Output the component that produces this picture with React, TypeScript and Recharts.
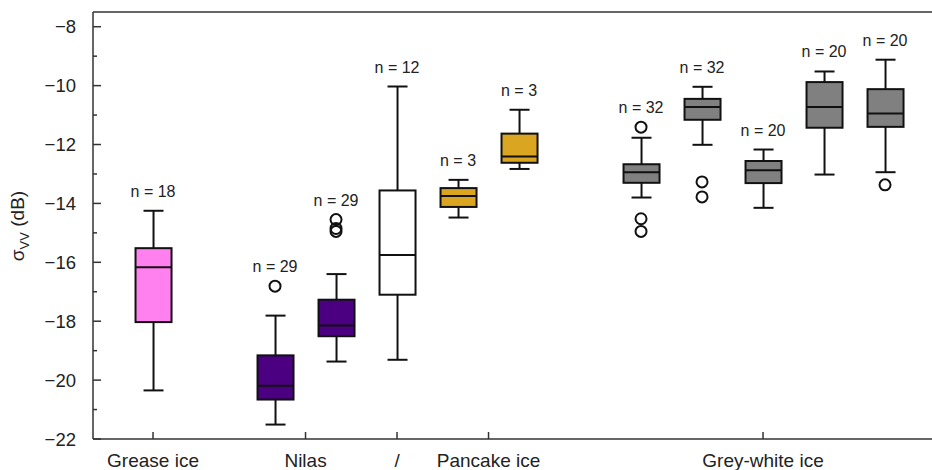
import { ComposedChart, Bar, Scatter, XAxis, YAxis, ReferenceLine } from "recharts";

const FONT = "'Liberation Sans', Arial, sans-serif";
const INK = "#111";
const AXIS = "#333";

// box positions along the x axis (one unit = one box slot)
const SLOTS = [0, 2, 3, 4, 5, 6, 8, 9, 10, 11, 12];
const LOW = [-20.35, -21.51, -19.37, -19.31, -14.48, -12.83, -13.8, -12.01, -14.15, -13.02, -12.94];
const Q1 = [-18.03, -20.66, -18.51, -17.1, -14.12, -12.62, -13.3, -11.16, -13.31, -11.43, -11.4];
const MEDIAN = [-16.17, -20.19, -18.15, -15.75, -13.75, -12.41, -12.94, -10.73, -12.87, -10.73, -10.95];
const Q3 = [-15.52, -19.16, -17.27, -13.56, -13.48, -11.63, -12.67, -10.45, -12.56, -9.88, -10.12];
const HIGH = [-14.25, -17.81, -16.4, -10.03, -13.2, -10.82, -11.77, -10.04, -12.17, -9.52, -9.12];
const COUNTS = [18, 29, 29, 12, 3, 3, 32, 32, 20, 20, 20];
const FILLS = ["#ff80ee", "#4b0082", "#4b0082", "#ffffff", "#daa520", "#daa520", "#808080", "#808080", "#808080", "#808080", "#808080"];

const OUTLIER_SLOTS = [2, 3, 3, 3, 8, 8, 8, 9, 9, 12];
const OUTLIER_VALUES = [-16.81, -14.55, -14.85, -14.95, -11.41, -14.52, -14.95, -13.27, -13.78, -13.37];

const X_TICKS = [0, 2.5, 4, 5.5, 10];
const X_LABELS = ["Grease ice", "Nilas", "/", "Pancake ice", "Grey-white ice"];
const Y_TICKS = [-22, -21, -20, -19, -18, -17, -16, -15, -14, -13, -12, -11, -10, -9, -8];

const boxes = SLOTS.map((x, i) => ({
  x,
  range: [LOW[i], HIGH[i]],
  q1: Q1[i],
  med: MEDIAN[i],
  q3: Q3[i],
  fill: FILLS[i],
}));

const outliers = OUTLIER_SLOTS.map((x, i) => ({ x, y: OUTLIER_VALUES[i] }));

const counts = SLOTS.map((x, i) => {
  const outs = OUTLIER_VALUES.filter((_, j) => OUTLIER_SLOTS[j] === x);
  return { x, y: Math.max(HIGH[i], ...outs), n: COUNTS[i] };
});

function BoxShape(props: any) {
  const { x, y, width, height, payload } = props;
  const [lo, hi] = payload.range;
  const k = height / (hi - lo);
  const py = (v: number) => y + (hi - v) * k;
  const cx = x + width / 2;
  const cap = 10;
  return (
    <g stroke={INK} strokeWidth={2}>
      <line x1={cx} x2={cx} y1={py(hi)} y2={py(payload.q3)} />
      <line x1={cx} x2={cx} y1={py(payload.q1)} y2={py(lo)} />
      <line x1={cx - cap} x2={cx + cap} y1={py(hi)} y2={py(hi)} />
      <line x1={cx - cap} x2={cx + cap} y1={py(lo)} y2={py(lo)} />
      <rect x={x} y={py(payload.q3)} width={width} height={py(payload.q1) - py(payload.q3)} fill={payload.fill} />
      <line x1={x} x2={x + width} y1={py(payload.med)} y2={py(payload.med)} />
    </g>
  );
}

function YTick(props: any) {
  const { x, y, payload } = props;
  const major = payload.value % 2 === 0;
  return (
    <g>
      <line x1={x} x2={x + (major ? 8 : 4)} y1={y} y2={y} stroke={AXIS} strokeWidth={1.5} />
      {major && (
        <text x={x - 17} y={y + 6.5} textAnchor="end" fontSize={18.5} fontFamily={FONT} fill="#222">
          {"\u2212" + Math.abs(payload.value)}
        </text>
      )}
    </g>
  );
}

function XTick(props: any) {
  const { x, y, payload } = props;
  const label = X_LABELS[X_TICKS.indexOf(payload.value)];
  return (
    <g>
      <line x1={x} x2={x} y1={y} y2={y - 7} stroke={AXIS} strokeWidth={1.5} />
      <text x={x} y={y + 28} textAnchor="middle" fontSize={19} fontFamily={FONT} fill="#222">
        {label}
      </text>
    </g>
  );
}

function YLabel() {
  return (
    <text transform="translate(24, 226) rotate(-90)" textAnchor="middle" fontSize={19} fontFamily={FONT} fill="#222">
      <tspan>σ</tspan>
      <tspan fontSize={13} dy={5}>VV</tspan>
      <tspan dy={-5}> (dB)</tspan>
    </text>
  );
}

export default function App() {
  return (
    <div style={{ width: 932, height: 470, background: "#fff" }}>
      <style>{"body{margin:0;overflow:hidden}"}</style>
      <ComposedChart width={932} height={470} data={boxes} margin={{ top: 12, right: 0, bottom: 0, left: 0 }}>
        <XAxis
          dataKey="x"
          type="number"
          domain={[-0.984, 12.77]}
          allowDataOverflow
          ticks={X_TICKS}
          interval={0}
          height={31}
          tickSize={0}
          tickMargin={0}
          tickLine={false}
          tick={<XTick />}
          axisLine={{ stroke: AXIS, strokeWidth: 1.5 }}
        />
        <YAxis
          type="number"
          domain={[-22, -7.5]}
          allowDataOverflow
          ticks={Y_TICKS}
          interval={0}
          width={93}
          tickSize={0}
          tickMargin={0}
          tickLine={false}
          tick={<YTick />}
          axisLine={{ stroke: AXIS, strokeWidth: 1.5 }}
          label={<YLabel />}
        />
        <ReferenceLine y={-7.5} stroke={AXIS} strokeWidth={1.5} ifOverflow="visible" />
        <Bar dataKey="range" barSize={36} shape={<BoxShape />} isAnimationActive={false} />
        <Scatter
          data={outliers}
          dataKey="y"
          isAnimationActive={false}
          shape={(p: any) => <circle cx={p.cx} cy={p.cy} r={5.5} fill="none" stroke={INK} strokeWidth={2} />}
        />
        <Scatter
          data={counts}
          dataKey="y"
          isAnimationActive={false}
          shape={(p: any) => (
            <text x={p.cx} y={p.cy - 14} textAnchor="middle" fontSize={16} fontFamily={FONT} fill="#222">
              {"n = " + p.payload.n}
            </text>
          )}
        />
      </ComposedChart>
    </div>
  );
}
